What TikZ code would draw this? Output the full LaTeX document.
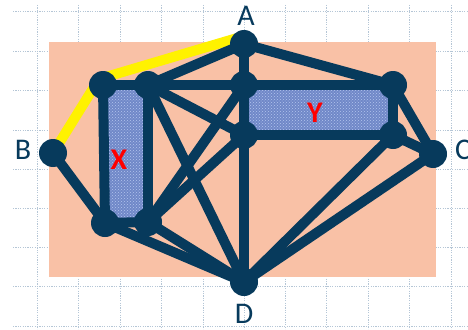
\documentclass[tikz,border=0pt]{standalone}
\usepackage{fontspec}
\setmainfont{Carlito}
\usetikzlibrary{patterns,calc}
\definecolor{navy}{HTML}{073A5C}
\definecolor{peach}{HTML}{F9C1A6}
\definecolor{gridc}{HTML}{B5C6D6}
\definecolor{denim}{HTML}{7088C8}
\definecolor{denimlt}{HTML}{B4C6EE}
\pgfdeclarelayer{bg}
\pgfdeclarelayer{edges}
\pgfsetlayers{bg,edges,main}
\begin{document}
\begin{tikzpicture}[x=1pt,y=-1pt,
  vtx/.style={circle,fill=navy,minimum size=28pt,inner sep=0pt},
  edge/.style={draw=navy,line width=10pt},
  hl/.style={draw=yellow,line width=10pt},
  lbl/.style={text=navy,font=\fontsize{30}{30}\selectfont,inner sep=0pt},
  setlbl/.style={text=red,font=\bfseries\fontsize{30}{30}\selectfont,inner sep=0pt},
  gridline/.style={draw=gridc,line width=0.8pt,dash pattern=on 1.2pt off 1.2pt},
  setfill/.style={fill=denim},
  settex/.style={pattern=crosshatch dots,pattern color=denimlt}]
\useasboundingbox (0,0) rectangle (468,329);
% nodes
\node[vtx] (A) at (244,44) {};
\node[vtx] (B) at (53,153) {};
\node[vtx] (C) at (433,154) {};
\node[vtx] (D) at (244,282) {};
\node[vtx] (X1) at (103,85) {};
\node[vtx] (X2) at (148,85) {};
\node[vtx] (X3) at (105,223) {};
\node[vtx] (X4) at (148,222) {};
\node[vtx] (Y1) at (244,85) {};
\node[vtx] (Y2) at (244,135) {};
\node[vtx] (Y3) at (393,85) {};
\node[vtx] (Y4) at (393,135) {};
% labels
\node[lbl] (lA) at (246,16) {A};
\node[lbl] (lB) at (23,150) {B};
\node[lbl] (lC) at (463,150) {C};
\node[lbl] (lD) at (244,314) {D};
\node[setlbl] (lX) at (119,160) {X};
\node[setlbl] (lY) at (315,113) {Y};
\begin{pgfonlayer}{bg}
  \foreach \y in {11,51,90,130,169,208,247,286,326}
    \draw[gridline] (13,\y) -- (468,\y);
  \foreach \x in {37,78.5,120,161,203,244,285,326,368,409,451}
    \draw[gridline] (\x,5) -- (\x,329);
  \fill[peach] (49,42) rectangle (436,277);
  \fill[setfill] (X1.center) rectangle (X4.center);
  \fill[settex] (X1.center) rectangle (X4.center);
  \fill[setfill] (Y1.center) rectangle (Y4.center);
  \fill[settex] (Y1.center) rectangle (Y4.center);
\end{pgfonlayer}
\begin{pgfonlayer}{edges}
  \draw[hl] (B.center) -- ($(X1.center)+(-4,-6)$) -- ($(A.center)+(0,-8)$);
  \foreach \a/\b in {A/X2,A/Y1,A/Y3,X1/X2,X2/Y1,X1/X3,X2/X4,X3/X4,
      Y1/Y3,Y1/Y2,Y2/Y4,Y3/Y4,Y3/C,Y4/C,B/X3,X2/Y2,X2/D,X4/Y1,X4/Y2,
      X3/D,X4/D,Y2/D,Y4/D,C/D}
    \draw[edge] (\a.center) -- (\b.center);
\end{pgfonlayer}
\end{tikzpicture}
\end{document}
